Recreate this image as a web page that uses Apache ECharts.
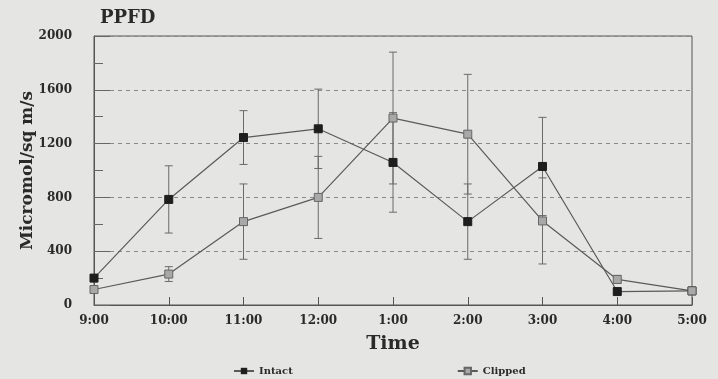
<!DOCTYPE html>
<html>
<head>
<meta charset="utf-8">
<script src="https://cdn.jsdelivr.net/npm/echarts@6/dist/echarts.min.js"></script>
<style>
html,body{margin:0;padding:0;background:#e5e5e3;}
#c{width:718px;height:379px;}
</style>
</head>
<body>
<div id="c"></div>
<script>
var categories = ['9:00','10:00','11:00','12:00','1:00','2:00','3:00','4:00','5:00'];
var intact = [200, 785, 1245, 1310, 1060, 620, 1030, 100, 105];
var intactErr = [25, 250, 200, 295, 370, 280, 365, 15, 10];
var clipped = [115, 230, 620, 800, 1390, 1270, 625, 190, 105];
var clippedErr = [25, 55, 280, 305, 490, 445, 320, 30, 10];
var yTicks = [0, 400, 800, 1200, 1600, 2000];

var FONT = 'DejaVu Serif';
var TXT = '#2a2a2a';
var LINE = '#5a5a5a';

function errData(vals, errs) {
  return vals.map(function (v, i) { return [i, v - errs[i], v + errs[i]]; });
}
function errRender(params, api) {
  var x = api.value(0);
  var lo = api.coord([x, api.value(1)]);
  var hi = api.coord([x, api.value(2)]);
  var w = 4;
  var st = { stroke: '#6a6a6a', lineWidth: 1 };
  return {
    type: 'group',
    children: [
      { type: 'line', shape: { x1: hi[0], y1: hi[1], x2: lo[0], y2: lo[1] }, style: st },
      { type: 'line', shape: { x1: hi[0] - w, y1: hi[1], x2: hi[0] + w, y2: hi[1] }, style: st },
      { type: 'line', shape: { x1: lo[0] - w, y1: lo[1], x2: lo[0] + w, y2: lo[1] }, style: st }
    ]
  };
}

var chart = echarts.init(document.getElementById('c'), null, { renderer: 'canvas' });
chart.setOption({
  backgroundColor: '#e5e5e3',
  animation: false,
  title: {
    text: 'PPFD', left: 95, top: 4,
    textStyle: { fontFamily: FONT, fontWeight: 'bold', fontSize: 18, color: TXT }
  },
  legend: {
    left: 228, top: 361, itemGap: 164, itemWidth: 20, itemHeight: 8,
    textStyle: { fontFamily: FONT, fontWeight: 'bold', fontSize: 10, color: TXT },
    data: ['Intact', 'Clipped']
  },
  grid: {
    left: 94, right: 26, top: 36, bottom: 74,
    show: true, borderColor: '#555', borderWidth: 1, backgroundColor: 'transparent'
  },
  xAxis: {
    type: 'category', data: categories, boundaryGap: false,
    name: 'Time', nameLocation: 'middle', nameGap: 30,
    nameTextStyle: { fontFamily: FONT, fontWeight: 'bold', fontSize: 19, color: TXT },
    axisLine: { lineStyle: { color: '#555' } },
    axisTick: { inside: true, length: 8, lineStyle: { color: '#555' } },
    axisLabel: { fontFamily: FONT, fontWeight: 'bold', fontSize: 12, color: TXT, margin: 10 },
    splitLine: { show: false }
  },
  yAxis: {
    type: 'value', min: 0, max: 2000, interval: 400,
    name: 'Micromol/sq m/s', nameLocation: 'middle', nameGap: 58, nameRotate: 90,
    nameMoveOverlap: false,
    nameTextStyle: { fontFamily: FONT, fontWeight: 'bold', fontSize: 17, color: TXT },
    axisLine: { show: true, lineStyle: { color: '#555' } },
    axisTick: { show: true, inside: true, length: 16, lineStyle: { color: '#666' } },
    minorTick: { show: true, splitNumber: 2, length: 9, lineStyle: { color: '#666' } },
    axisLabel: { fontFamily: FONT, fontWeight: 'bold', fontSize: 12, color: TXT, margin: 22,
      formatter: function (v) { return yTicks.indexOf(v) >= 0 ? String(v) : ''; } },
    splitLine: { show: true, lineStyle: { color: '#8a8a8a', type: [4, 4], width: 1 } }
  },
  series: [
    {
      name: 'Intact', type: 'line', data: intact,
      symbol: 'rect', symbolSize: 8,
      lineStyle: { color: LINE, width: 1.2 },
      itemStyle: { color: '#1e1e1e', borderColor: '#1e1e1e' },
      z: 5
    },
    {
      name: 'Clipped', type: 'line', data: clipped,
      symbol: 'rect', symbolSize: 8,
      lineStyle: { color: LINE, width: 1.2 },
      itemStyle: { color: '#a8a8a8', borderColor: '#666', borderWidth: 1 },
      z: 5
    },
    {
      type: 'custom', name: 'intactErr', renderItem: errRender,
      data: errData(intact, intactErr), encode: { x: 0, y: [1, 2] }, z: 3, silent: true
    },
    {
      type: 'custom', name: 'clippedErr', renderItem: errRender,
      data: errData(clipped, clippedErr), encode: { x: 0, y: [1, 2] }, z: 3, silent: true
    }
  ]
});
</script>
</body>
</html>
